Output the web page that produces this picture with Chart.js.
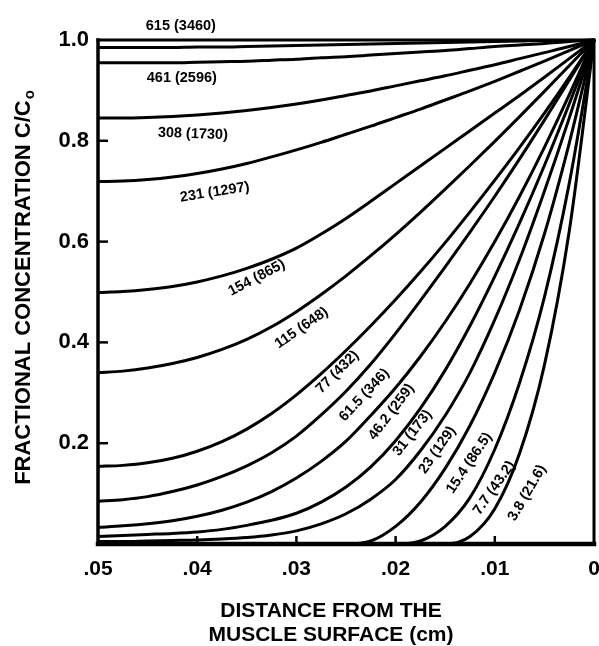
<!DOCTYPE html>
<html>
<head>
<meta charset="utf-8">
<script src="https://cdn.jsdelivr.net/npm/chart.js@4.4.1/dist/chart.umd.min.js"></script>
<style>
  html, body { margin: 0; padding: 0; background: #fff; }
  #wrap { width: 599px; height: 646px; }
</style>
</head>
<body>
<div id="wrap"><canvas id="concChart" width="599" height="646"></canvas></div>
<script>
// distance from the muscle surface (cm), read left (.05) to right (0)
var depth = [0.05, 0.0475, 0.045, 0.0425, 0.04, 0.0375, 0.035, 0.0325, 0.03, 0.0275,
             0.025, 0.0225, 0.02, 0.0175, 0.015, 0.0125, 0.01, 0.0075, 0.005, 0.0025, 0];

// fractional concentration C/Co for each curve, same order as depth
var c615 = [0.985,0.985,0.985,0.985,0.986,0.986,0.987,0.988,0.989,0.990,0.991,0.992,0.993,0.994,0.995,0.996,0.997,0.998,0.999,0.999,1.0];
var c461 = [0.955,0.955,0.955,0.955,0.956,0.957,0.958,0.960,0.962,0.965,0.967,0.970,0.973,0.976,0.979,0.983,0.987,0.990,0.993,0.997,1.0];
var c308 = [0.845,0.845,0.846,0.848,0.851,0.855,0.860,0.866,0.873,0.881,0.890,0.899,0.909,0.919,0.929,0.940,0.951,0.963,0.975,0.987,1.0];
var c231 = [0.719,0.720,0.723,0.728,0.735,0.744,0.755,0.768,0.782,0.797,0.813,0.829,0.846,0.863,0.881,0.899,0.918,0.938,0.958,0.979,1.0];
var c154 = [0.499,0.501,0.505,0.511,0.520,0.532,0.547,0.565,0.587,0.615,0.646,0.680,0.715,0.750,0.785,0.820,0.855,0.890,0.926,0.963,1.0];
var c115 = [0.340,0.343,0.349,0.358,0.370,0.386,0.406,0.431,0.461,0.495,0.532,0.572,0.614,0.658,0.704,0.751,0.799,0.848,0.898,0.949,1.0];
var c77  = [0.154,0.156,0.161,0.170,0.184,0.203,0.228,0.259,0.296,0.338,0.384,0.433,0.485,0.540,0.598,0.659,0.722,0.787,0.855,0.926,1.0];
var c61  = [0.085,0.088,0.094,0.104,0.117,0.134,0.155,0.181,0.214,0.256,0.303,0.357,0.418,0.483,0.550,0.619,0.690,0.764,0.841,0.920,1.0];
var c46  = [0.033,0.036,0.040,0.046,0.055,0.067,0.083,0.104,0.131,0.164,0.204,0.255,0.310,0.372,0.441,0.517,0.600,0.690,0.787,0.891,1.0];
var c31  = [0.015,0.017,0.019,0.021,0.024,0.029,0.037,0.047,0.061,0.083,0.113,0.153,0.205,0.269,0.345,0.433,0.531,0.637,0.751,0.873,1.0];
var c23  = [0.005,0.005,0.006,0.007,0.008,0.010,0.013,0.018,0.026,0.040,0.060,0.089,0.128,0.185,0.255,0.340,0.445,0.565,0.700,0.845,1.0];
var c15  = [0,0,0,0,0,0,0,0,0,0,0,0.006,0.035,0.083,0.150,0.235,0.340,0.465,0.615,0.795,1.0];
var c7   = [0,0,0,0,0,0,0,0,0,0,0,0,0,0.006,0.035,0.092,0.188,0.320,0.490,0.715,1.0];
var c3   = [0,0,0,0,0,0,0,0,0,0,0,0,0,0,0,0.015,0.070,0.180,0.355,0.620,1.0];

var curveNames = ['615 (3460)', '461 (2596)', '308 (1730)', '231 (1297)', '154 (865)', '115 (648)',
                  '77 (432)', '61.5 (346)', '46.2 (259)', '31 (173)', '23 (129)', '15.4 (86.5)',
                  '7.7 (43.2)', '3.8 (21.6)'];
var curves = [c615, c461, c308, c231, c154, c115, c77, c61, c46, c31, c23, c15, c7, c3];

var xTicks = [0.05, 0.04, 0.03, 0.02, 0.01, 0];
var yTicks = [0, 0.2, 0.4, 0.6, 0.8, 1.0];

// where each curve's name sits (data units) and its tilt in degrees
var namePlace = [
  [0.04165, 1.028, 0], [0.04155, 0.925, 0], [0.04044, 0.8135, 2], [0.03823, 0.698, -9],
  [0.0340, 0.528, -28], [0.02948, 0.4286, -35], [0.02586, 0.3413, -45], [0.02314, 0.2956, -47],
  [0.02042, 0.2619, -53], [0.01831, 0.2202, -52], [0.01579, 0.1865, -55], [0.01258, 0.1607, -56],
  [0.01006, 0.1111, -55], [0.00674, 0.1012, -60]
];

var boldFont = '"Liberation Sans", Arial, Helvetica, sans-serif';

var datasets = curves.map(function(vals, i) {
  return {
    label: curveNames[i],
    data: depth.map(function(d, j) { return { x: d, y: vals[j] }; }),
    borderColor: '#000',
    borderWidth: 3,
    pointRadius: 0,
    fill: false,
    cubicInterpolationMode: 'monotone',
    clip: false
  };
});

// frame, inward ticks, axis titles and curve names
var decorations = {
  id: 'decorations',
  afterDraw: function(chart) {
    var ctx = chart.ctx;
    var a = chart.chartArea;
    var xs = chart.scales.x, ys = chart.scales.y;
    ctx.save();
    ctx.strokeStyle = '#000';
    ctx.fillStyle = '#000';
    ctx.lineCap = 'square';

    function seg(x1, y1, x2, y2, w) {
      ctx.lineWidth = w;
      ctx.beginPath();
      ctx.moveTo(x1, y1);
      ctx.lineTo(x2, y2);
      ctx.stroke();
    }
    seg(a.left, a.top, a.right, a.top, 3);
    seg(a.right, a.top, a.right, a.bottom, 3);
    seg(a.left, a.top, a.left, a.bottom, 3.5);
    seg(a.left, a.bottom, a.right, a.bottom, 4.5);

    ctx.lineCap = 'butt';
    [0.2, 0.4, 0.6, 0.8].forEach(function(v) {
      var py = ys.getPixelForValue(v);
      seg(a.left, py, a.left + 10, py, 2.5);
    });
    [0.04, 0.03, 0.02, 0.01].forEach(function(v) {
      var px = xs.getPixelForValue(v);
      seg(px, a.bottom, px, a.bottom - 8, 2.5);
    });

    // curve names
    ctx.font = 'bold 14.5px ' + boldFont;
    ctx.textAlign = 'center';
    ctx.textBaseline = 'middle';
    namePlace.forEach(function(p, i) {
      ctx.save();
      ctx.translate(xs.getPixelForValue(p[0]), ys.getPixelForValue(p[1]));
      ctx.rotate(p[2] * Math.PI / 180);
      ctx.fillText(curveNames[i], 0, 0);
      ctx.restore();
    });

    // x title
    ctx.font = 'bold 21px ' + boldFont;
    ctx.fillText('DISTANCE FROM THE', 331, 611);
    ctx.fillText('MUSCLE SURFACE (cm)', 331, 635);

    // y title with subscript o
    var main = 'FRACTIONAL CONCENTRATION C/C';
    ctx.save();
    ctx.translate(22, 288);
    ctx.rotate(-Math.PI / 2);
    ctx.textAlign = 'left';
    ctx.textBaseline = 'alphabetic';
    ctx.font = 'bold 22px ' + boldFont;
    var w1 = ctx.measureText(main).width;
    ctx.font = 'bold 15px ' + boldFont;
    var w2 = ctx.measureText('o').width;
    var start = -(w1 + w2) / 2;
    ctx.font = 'bold 22px ' + boldFont;
    ctx.fillText(main, start, 8);
    ctx.font = 'bold 15px ' + boldFont;
    ctx.fillText('o', start + w1 + 1, 12);
    ctx.restore();

    ctx.restore();
  }
};

var ctx = document.getElementById('concChart').getContext('2d');
var concChart = new Chart(ctx, {
  type: 'line',
  data: { datasets: datasets },
  options: {
    responsive: false,
    animation: false,
    events: [],
    layout: { padding: { left: 0, right: 5, top: 40, bottom: 0 } },
    plugins: { legend: { display: false }, tooltip: { enabled: false } },
    scales: {
      x: {
        type: 'linear',
        reverse: true,
        min: 0,
        max: 0.05,
        grid: { display: false, drawTicks: false },
        border: { display: false },
        afterBuildTicks: function(s) { s.ticks = xTicks.map(function(v) { return { value: v }; }); },
        afterFit: function(s) { s.height = 102; s.paddingLeft = 0; s.paddingRight = 0; },
        ticks: {
          padding: 13,
          color: '#000',
          maxRotation: 0,
          font: { family: boldFont, size: 21, weight: 'bold' },
          callback: function(v) {
            if (v === 0) return '0';
            return '.' + String(Math.round(v * 100)).padStart(2, '0');
          }
        }
      },
      y: {
        type: 'linear',
        min: 0,
        max: 1,
        grid: { display: false, drawTicks: false },
        border: { display: false },
        afterBuildTicks: function(s) { s.ticks = yTicks.map(function(v) { return { value: v }; }); },
        afterFit: function(s) { s.width = 98; s.paddingTop = 0; s.paddingBottom = 0; },
        ticks: {
          padding: 9,
          color: '#000',
          font: { family: boldFont, size: 22, weight: 'bold' },
          callback: function(v) { return v === 0 ? '' : v.toFixed(1); }
        }
      }
    }
  },
  plugins: [decorations]
});
</script>
</body>
</html>
